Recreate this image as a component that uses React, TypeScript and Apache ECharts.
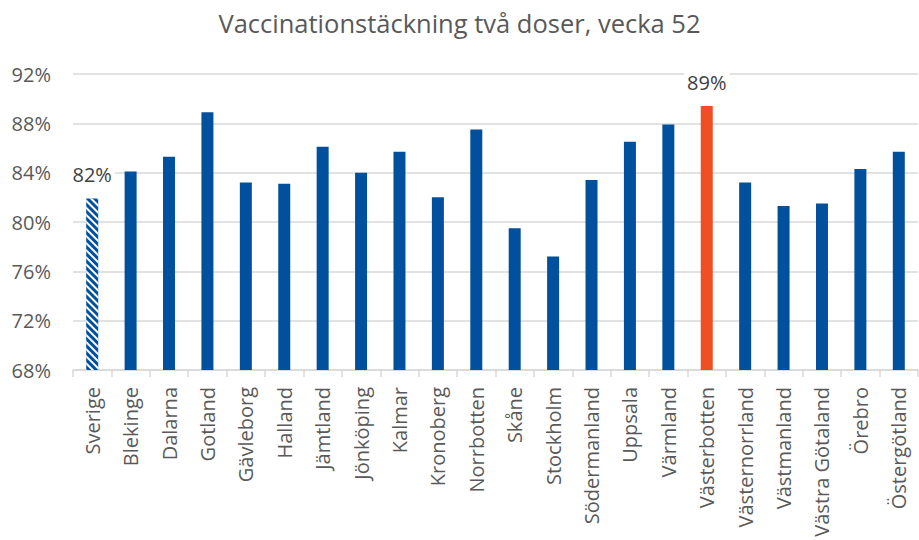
import React, { useEffect, useRef } from "react";
import * as echarts from "echarts";

const titleText = "Vaccinationstäckning två doser, vecka 52";
const categories = [
  "Sverige", "Blekinge", "Dalarna", "Gotland", "Gävleborg", "Halland", "Jämtland",
  "Jönköping", "Kalmar", "Kronoberg", "Norrbotten", "Skåne", "Stockholm",
  "Södermanland", "Uppsala", "Värmland", "Västerbotten", "Västernorrland",
  "Västmanland", "Västra Götaland", "Örebro", "Östergötland",
];
const coverage = [
  81.9, 84.1, 85.3, 88.9, 83.2, 83.1, 86.1, 84.0, 85.7, 82.0, 87.5, 79.5, 77.2,
  83.4, 86.5, 87.9, 89.4, 83.2, 81.3, 81.5, 84.3, 85.7,
];
const nationalName = "Sverige";
const highlightName = "Västerbotten";
const yMin = 68;
const yMax = 92;
const yStep = 4;

const BLUE = "#00509E";
const ORANGE = "#F04E23";
const TEXT = "#595959";
const GRID = "#D9D9D9";
const FONT = "'Open Sans', 'Noto Sans', sans-serif";

export default function App() {
  const ref = useRef<HTMLDivElement>(null);
  useEffect(() => {
    if (!ref.current) return;
    const chart = echarts.init(ref.current, undefined, { renderer: "svg" });
    const labelCfg = {
      show: true,
      position: "top",
      distance: 13,
      color: "#404040",
      fontSize: 20,
      fontFamily: FONT,
      backgroundColor: "#ffffff",
      padding: [1, 3],
      formatter: (p: any) => Math.round(p.value) + "%",
    };
    const data = categories.map((c, i) => {
      const v = coverage[i];
      if (c === nationalName) {
        return {
          value: v,
          itemStyle: {
            color: BLUE,
            decal: {
              symbol: "rect",
              symbolSize: 1,
              color: "#ffffff",
              dashArrayX: [1, 0],
              dashArrayY: [2, 2.5],
              rotation: Math.PI / 4,
            },
          },
          label: labelCfg,
        };
      }
      if (c === highlightName) {
        return { value: v, itemStyle: { color: ORANGE }, label: labelCfg };
      }
      return { value: v };
    });
    chart.setOption({
      animation: false,
      backgroundColor: "#ffffff",
      title: {
        text: titleText,
        left: "center",
        top: 5,
        textStyle: { fontFamily: FONT, fontSize: 25.5, fontWeight: "normal", color: TEXT },
      },
      grid: { left: 73, right: 1, top: 74, bottom: 170 },
      xAxis: {
        type: "category",
        data: categories,
        axisLine: { lineStyle: { color: GRID, width: 1.5 } },
        axisTick: { show: true, length: 7, interval: 0, lineStyle: { color: GRID, width: 1.5 } },
        axisLabel: {
          interval: 0,
          rotate: 90,
          margin: 17,
          fontSize: 20,
          fontFamily: FONT,
          color: TEXT,
        },
      },
      yAxis: {
        type: "value",
        min: yMin,
        max: yMax,
        interval: yStep,
        axisLine: { show: false },
        axisTick: { show: false },
        splitLine: { lineStyle: { color: GRID, width: 1.5 } },
        axisLabel: {
          formatter: "{value}%",
          fontSize: 20,
          fontFamily: FONT,
          color: TEXT,
          margin: 22,
        },
      },
      series: [
        {
          type: "bar",
          data,
          barWidth: 12,
          itemStyle: { color: BLUE },
        },
      ],
    });
    return () => chart.dispose();
  }, []);
  return (
    <div
      ref={ref}
      style={{ position: "fixed", left: 0, top: 0, width: 919, height: 540 }}
    />
  );
}
